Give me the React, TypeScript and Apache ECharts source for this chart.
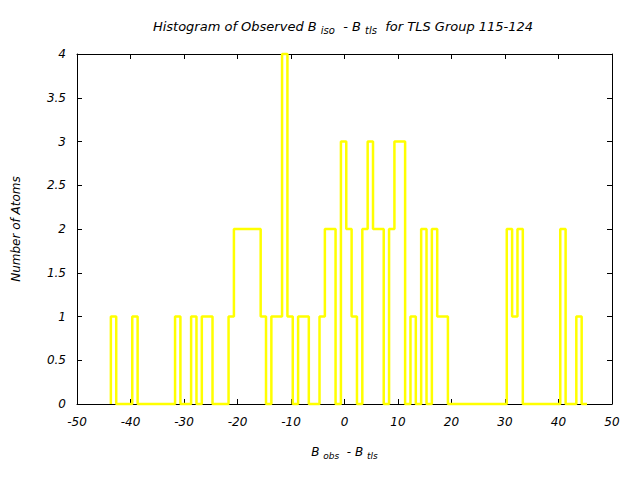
import React, { useEffect, useRef } from "react";
import * as echarts from "echarts";

// Histogram bins (width 1) — first bin left edge and counts
const binFirstEdge = -43.67;
const binWidth = 1;
const counts = [
  1, 0, 0, 0, 1, 0, 0, 0, 0, 0, 0, 0, 1, 0, 0, 1, 0, 1, 1, 0,
  0, 0, 1, 2, 2, 2, 2, 2, 1, 0, 1, 1, 4, 1, 0, 1, 1, 0, 0, 1,
  2, 2, 0, 3, 2, 1, 0, 2, 3, 2, 2, 0, 2, 3, 3, 0, 1, 0, 2, 0,
  2, 1, 1, 0, 0, 0, 0, 0, 0, 0, 0, 0, 0, 0, 2, 1, 2, 0, 0, 0,
  0, 0, 0, 0, 2, 0, 0, 1, 0,
];
const xTicks = { min: -50, max: 50, interval: 10 };
const yTicks = { min: 0, max: 4, interval: 0.5 };

const FONT = "DejaVu Sans";

export default function App() {
  const ref = useRef<HTMLDivElement>(null);
  useEffect(() => {
    if (!ref.current) return;
    const chart = echarts.init(ref.current, null, { renderer: "svg" });
    const pts: [number, number][] = [];
    pts.push([binFirstEdge, 0]);
    counts.forEach((c, i) => {
      pts.push([+(binFirstEdge + i * binWidth).toFixed(2), c]);
    });
    const lastEdge = +(binFirstEdge + counts.length * binWidth).toFixed(2);
    pts.push([lastEdge, counts[counts.length - 1]]);
    pts.push([lastEdge, 0]);

    const baseText = {
      fontFamily: FONT,
      fontStyle: "italic" as const,
      fontWeight: "normal" as const,
      fontSize: 12,
      color: "#000",
    };
    const rich = {
      m: { ...baseText },
      s: { ...baseText, fontSize: 9, padding: [7, 0, 0, 0] },
    };
    const titleRich = {
      m: { ...baseText, fontSize: 13 },
      s: { ...baseText, fontSize: 10, padding: [7, 0, 0, 0] },
    };

    const axisCommon = {
      type: "value" as const,
      axisLine: { show: true, onZero: false, lineStyle: { color: "#000", width: 1 } },
      axisTick: { show: true, inside: true, length: 5, lineStyle: { color: "#000" } },
      splitLine: { show: false },
    };

    chart.setOption({
      animation: false,
      backgroundColor: "#fff",
      title: {
        text: "{m|Histogram of Observed B }{s|iso}{m|  - B }{s|tls}{m|  for TLS Group 115-124}",
        left: 338,
        textAlign: "center",
        top: 13,
        textStyle: { ...baseText, fontSize: 13, rich: titleRich },
      },
      grid: { left: 77, top: 54, width: 535, height: 350 },
      xAxis: [
        {
          ...axisCommon,
          position: "bottom",
          ...xTicks,
          axisLabel: { ...baseText, margin: 12 },
          name: "{m|B }{s|obs}{m|  - B }{s|tls}",
          nameLocation: "middle",
          nameGap: 40,
          nameTextStyle: { ...baseText, rich },
        },
        {
          ...axisCommon,
          position: "top",
          ...xTicks,
          axisLabel: { show: false },
        },
      ],
      yAxis: [
        {
          ...axisCommon,
          position: "left",
          ...yTicks,
          axisLabel: { ...baseText, margin: 11 },
          name: "Number of Atoms",
          nameLocation: "middle",
          nameGap: 55,
          nameTextStyle: { ...baseText },
        },
        {
          ...axisCommon,
          position: "right",
          ...yTicks,
          axisLabel: { show: false },
        },
      ],
      series: [
        {
          type: "line",
          step: "end",
          data: pts,
          showSymbol: false,
          symbol: "none",
          lineStyle: { color: "#ffff00", width: 2.5 },
          itemStyle: { color: "#ffff00" },
          clip: false,
        },
      ],
    });
    return () => chart.dispose();
  }, []);
  return (
    <div
      ref={ref}
      style={{ position: "fixed", left: 0, top: 0, width: 640, height: 480, background: "#fff" }}
    />
  );
}
